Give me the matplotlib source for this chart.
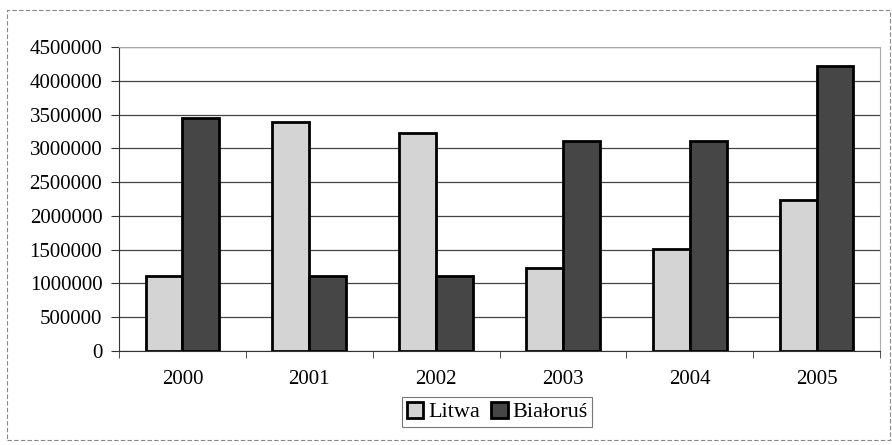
import matplotlib
matplotlib.use("Agg")
import matplotlib.pyplot as plt
from matplotlib.patches import Rectangle
import numpy as np

years = ["2000", "2001", "2002", "2003", "2004", "2005"]
litwa = [1110000, 3390000, 3230000, 1230000, 1510000, 2230000]
bialorus = [3450000, 1110000, 1110000, 3110000, 3110000, 4220000]
series_names = ["Litwa", "Białoruś"]
yticks = [0, 500000, 1000000, 1500000, 2000000, 2500000, 3000000, 3500000, 4000000, 4500000]

plt.rcParams['font.family'] = ['Liberation Serif', 'DejaVu Serif']

W, H = 892, 445
fig = plt.figure(figsize=(W / 100, H / 100), dpi=100)
ax = fig.add_axes([119 / W, 1 - 351 / H, (880 - 119) / W, (351 - 47) / H])

x = np.arange(len(years))
bw = 0.29
ax.bar(x - bw / 2, litwa, bw, color='#d4d4d4', edgecolor='black', linewidth=2, zorder=3, label=series_names[0])
ax.bar(x + bw / 2, bialorus, bw, color='#464646', edgecolor='black', linewidth=2, zorder=3, label=series_names[1])

ax.set_xlim(-0.5, len(years) - 0.5)
ax.set_ylim(0, 4500000)
ax.set_yticks(yticks)
ax.set_yticklabels([str(v) for v in yticks], fontsize=15)
ax.set_xticks(x)
ax.set_xticklabels(years, fontsize=15)
ax.set_xticks(np.arange(-0.5, len(years)), minor=True)
ax.tick_params(axis='x', which='major', length=0, pad=14)
ax.tick_params(axis='x', which='minor', length=5, direction='out', color='#333333')
ax.tick_params(axis='y', length=6, direction='out', color='#333333', pad=6)

ax.yaxis.grid(True, color='#444444', linewidth=0.9, zorder=0)
for side in ['top', 'right']:
    ax.spines[side].set_color('#aaaaaa')
    ax.spines[side].set_linewidth(0.8)
ax.spines['left'].set_color('#333333')
ax.spines['bottom'].set_color('#333333')

leg = fig.legend(loc='center', bbox_to_anchor=(497 / W, 1 - 412 / H), ncol=2, fontsize=16,
                 frameon=True, fancybox=False, edgecolor='#555555', handlelength=0.75,
                 handleheight=0.75, handletextpad=0.2, columnspacing=0.5, borderpad=0.2)
leg.get_frame().set_linewidth(0.8)

fig.patches.append(Rectangle((7 / W, 1 - 440 / H), (890 - 7) / W, (440 - 10) / H,
                             transform=fig.transFigure, fill=False, edgecolor='#888888',
                             linewidth=0.8, linestyle=(0, (4, 2))))

fig.savefig("out.png", dpi=100)
